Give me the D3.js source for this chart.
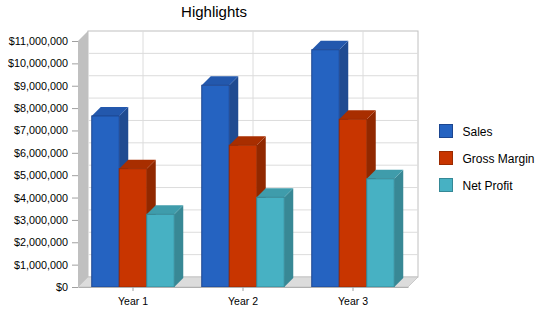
<!DOCTYPE html>
<html lang="en">
<head>
  <meta charset="UTF-8">
  <title>Highlights</title>
  <script src="https://d3js.org/d3.v7.min.js"></script>
  <style>
    body { margin: 0; background: #fff; }
    text { font-family: "Liberation Sans", Arial, sans-serif; }
  </style>
</head>
<body>
  <svg width="550" height="318"></svg>

  <script>
    // chart data
    const years = ["Year 1", "Year 2", "Year 3"];
    const seriesNames = ["Sales", "Gross Margin", "Net Profit"];
    const sales = [7650000, 9020000, 10610000];
    const grossMargin = [5290000, 6340000, 7500000];
    const netProfit = [3250000, 4010000, 4840000];
    const yTicks = [0, 1e6, 2e6, 3e6, 4e6, 5e6, 6e6, 7e6, 8e6, 9e6, 10e6, 11e6];

    const values = [sales, grossMargin, netProfit];
    // front, top, side, outline
    const colors = [
      { front: "#2563c1", top: "#2358ad", side: "#1f4b91", line: "#1c4690" },
      { front: "#c83500", top: "#a82e00", side: "#912800", line: "#9a2a00" },
      { front: "#47b1c3", top: "#3f9cab", side: "#388895", line: "#358896" }
    ];

    const svg = d3.select("svg");

    const plotLeft = 78, plotRight = 408, plotBottom = 287, plotTop = 41;
    const depth = 10;     // wall depth offset
    const barDepth = 9;   // bar depth offset

    const x0 = d3.scaleBand().domain(years).range([plotLeft, plotRight]);
    const x1 = d3.scaleBand().domain(seriesNames)
      .range([0, x0.bandwidth()])
      .paddingInner(0)
      .paddingOuter(0.5);
    const y = d3.scaleLinear().domain([0, 11e6]).range([plotBottom, plotTop]);

    const poly = pts => pts.map(p => p.join(",")).join(" ");

    // back wall
    svg.append("rect")
      .attr("x", plotLeft + depth).attr("y", plotTop - depth)
      .attr("width", plotRight - plotLeft).attr("height", plotBottom - plotTop)
      .attr("fill", "#fff")
      .attr("stroke", "#c0c0c0");

    // horizontal grid on back wall
    svg.append("g").selectAll("line")
      .data(yTicks.slice(1, -1))
      .enter().append("line")
      .attr("x1", plotLeft + depth).attr("x2", plotRight + depth)
      .attr("y1", d => y(d) - depth).attr("y2", d => y(d) - depth)
      .attr("stroke", "#dcdcdc");

    // vertical grid on back wall
    svg.append("g").selectAll("line")
      .data(years)
      .enter().append("line")
      .attr("x1", d => x0(d) + x0.bandwidth() / 2 + depth)
      .attr("x2", d => x0(d) + x0.bandwidth() / 2 + depth)
      .attr("y1", plotTop - depth).attr("y2", plotBottom - depth)
      .attr("stroke", "#dcdcdc");

    // left side wall
    svg.append("polygon")
      .attr("points", poly([[plotLeft, plotTop], [plotLeft + depth, plotTop - depth], [plotLeft + depth, plotBottom - depth], [plotLeft, plotBottom]]))
      .attr("fill", "#c0c0c0");

    // floor
    svg.append("polygon")
      .attr("points", poly([[plotLeft, plotBottom], [plotLeft + depth, plotBottom - depth], [plotRight + depth, plotBottom - depth], [plotRight, plotBottom]]))
      .attr("fill", "#dcdcdc")
      .attr("stroke", "#c0c0c0")
      .attr("stroke-width", 0.8);

    // bars
    years.forEach((yr, i) => {
      seriesNames.forEach((s, j) => {
        const v = values[j][i];
        const bx = x0(yr) + x1(s);
        const bw = x1.bandwidth();
        const by = y(v);
        const c = colors[j];
        const g = svg.append("g");
        g.append("polygon")
          .attr("points", poly([[bx + bw, by], [bx + bw + barDepth, by - barDepth], [bx + bw + barDepth, plotBottom - barDepth], [bx + bw, plotBottom]]))
          .attr("fill", c.side);
        g.append("polygon")
          .attr("points", poly([[bx, by], [bx + barDepth, by - barDepth], [bx + bw + barDepth, by - barDepth], [bx + bw, by]]))
          .attr("fill", c.top);
        g.append("rect")
          .attr("x", bx).attr("y", by)
          .attr("width", bw).attr("height", plotBottom - by)
          .attr("fill", c.front)
          .attr("stroke", c.line)
          .attr("stroke-width", 1);
      });
    });

    // y axis
    const yAxis = svg.append("g")
      .attr("transform", "translate(" + plotLeft + ",0)")
      .call(d3.axisLeft(y).tickValues(yTicks).tickFormat(d3.format("$,")).tickSize(6).tickPadding(4));
    yAxis.select(".domain").remove();
    yAxis.selectAll("line").attr("stroke", "#a0a0a0");
    yAxis.selectAll("text").style("font-size", "10.8px").attr("fill", "#000");

    // x axis
    const xAxis = svg.append("g")
      .attr("transform", "translate(0," + plotBottom + ")")
      .call(d3.axisBottom(x0).tickSize(4).tickSizeOuter(0).tickPadding(7));
    xAxis.select(".domain").attr("stroke", "#b0b0b0");
    xAxis.selectAll("line").attr("stroke", "#a0a0a0");
    xAxis.selectAll("text").style("font-size", "10.5px").attr("fill", "#000");

    // title
    svg.append("text")
      .attr("x", 214).attr("y", 17)
      .attr("text-anchor", "middle")
      .style("font-size", "15px")
      .text("Highlights");

    // legend
    const legend = svg.append("g").selectAll("g")
      .data(seriesNames)
      .enter().append("g")
      .attr("transform", (d, i) => "translate(439.5," + (124.5 + i * 27) + ")");
    legend.append("rect")
      .attr("width", 13).attr("height", 13)
      .attr("fill", (d, i) => colors[i].front)
      .attr("stroke", (d, i) => colors[i].line);
    legend.append("text")
      .attr("x", 23).attr("y", 11)
      .style("font-size", "12px")
      .text(d => d);
  </script>
</body>
</html>
